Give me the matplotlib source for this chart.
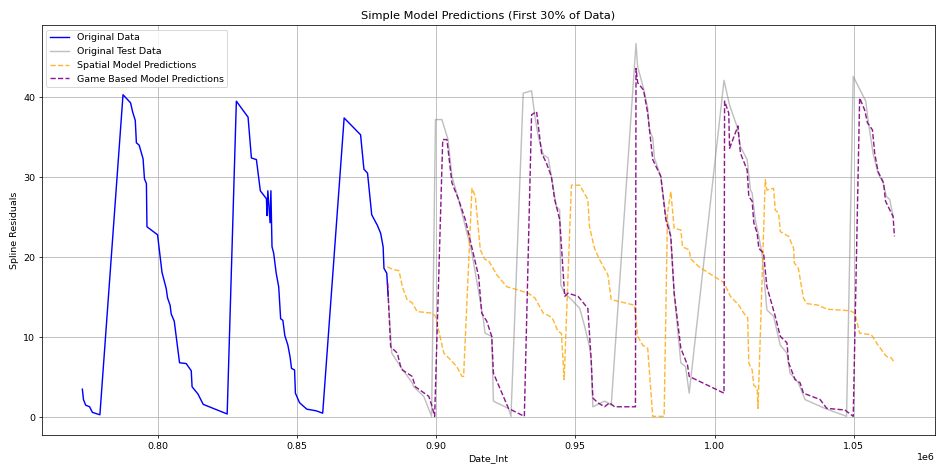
import numpy as np
import matplotlib.pyplot as plt

# Date_Int values are given in thousands, y values are spline residuals.
orig_x = [773.0, 773.4, 774.2, 775.6, 776.6, 779.3, 787.6, 790.3, 791.1, 792.0,
          792.4, 793.4, 794.8, 795.3, 796.0, 796.2, 800.0, 801.6, 803.1, 803.6,
          804.5, 804.9, 806.0, 807.9, 810.3, 812.1, 812.4, 814.5, 816.4, 825.0,
          828.3, 832.5, 833.7, 835.5, 836.9, 839.1, 839.3, 839.6, 840.4, 840.7,
          841.1, 841.7, 842.6, 843.5, 844.2, 845.0, 845.7, 846.8, 847.6, 848.1,
          849.2, 849.5, 851.0, 853.6, 856.9, 859.3, 867.0, 872.9, 874.1, 875.4,
          876.9, 878.9, 880.1, 881.0, 881.3, 882.3, 882.8]
orig_y = [3.5, 2.2, 1.5, 1.3, 0.6, 0.3, 40.3, 39.3, 38.1, 37.1,
          34.3, 34.0, 32.3, 29.8, 29.2, 23.8, 22.8, 18.1, 16.1, 14.9,
          14.0, 12.9, 12.0, 6.8, 6.7, 5.8, 3.8, 2.9, 1.6, 0.4,
          39.5, 37.5, 32.4, 32.2, 28.3, 27.3, 25.2, 28.3, 24.3, 28.3,
          21.3, 20.5, 18.0, 16.3, 12.3, 12.1, 10.2, 9.0, 7.5, 6.1,
          5.9, 3.0, 1.8, 1.0, 0.8, 0.5, 37.4, 35.3, 31.0, 30.5,
          25.3, 24.0, 23.0, 21.3, 18.6, 18.0, 15.1]

test_x = [882.8, 884.1, 887.3, 891.4, 892.0, 895.6, 898.4, 899.8, 902.1, 904.3,
          905.7, 908.1, 911.7, 912.9, 917.0, 917.6, 920.0, 920.6, 926.0, 926.9,
          931.3, 934.3, 935.5, 936.7, 938.5, 940.3, 941.4, 943.2, 944.4, 944.8,
          946.2, 948.6, 951.6, 953.4, 955.1, 955.7, 956.3, 960.5, 961.7, 962.9,
          971.8, 972.4, 974.5, 976.0, 976.6, 977.8, 978.4, 980.7, 982.5, 983.7,
          984.3, 985.5, 987.9, 989.6, 990.9, 1003.4, 1005.4, 1008.1, 1009.3, 1011.7,
          1012.9, 1013.5, 1014.6, 1015.9, 1017.0, 1018.8, 1021.2, 1023.6, 1026.0, 1027.1,
          1030.1, 1032.5, 1039.6, 1047.4, 1049.8, 1054.3, 1055.1, 1056.9, 1058.7, 1060.5,
          1061.7, 1062.9, 1064.1]
test_y = [15.1, 8.0, 6.3, 4.3, 3.8, 2.6, 0.1, 37.2, 37.2, 34.7,
          30.1, 27.2, 22.2, 20.5, 12.2, 10.5, 10.1, 2.0, 1.1, 0.1,
          40.5, 40.8, 37.6, 35.1, 32.8, 32.4, 30.1, 26.3, 25.9, 16.5,
          15.5, 14.7, 13.6, 11.3, 8.8, 7.2, 1.3, 2.0, 1.8, 1.5,
          46.7, 43.8, 41.1, 38.6, 35.9, 34.9, 32.4, 30.1, 25.1, 23.8,
          22.2, 15.5, 6.8, 6.3, 3.0, 42.1, 39.0, 36.3, 33.8, 32.2,
          28.4, 28.0, 24.7, 22.6, 20.5, 13.4, 12.6, 9.0, 8.0, 5.5,
          4.3, 2.2, 1.1, 0.1, 42.6, 39.5, 37.2, 33.0, 30.5, 29.3,
          27.6, 27.2, 25.1]

spatial_x = [882.5, 884.3, 886.7, 887.9, 889.6, 891.4, 893.2, 898.6, 899.8, 902.8,
             905.1, 907.5, 909.3, 909.9, 912.9, 914.1, 915.9, 917.6, 918.8, 921.8,
             925.4, 929.5, 933.1, 935.5, 938.5, 940.9, 942.0, 943.8, 945.0, 946.0,
             948.6, 951.6, 954.5, 955.1, 956.9, 958.7, 961.7, 962.9, 971.2, 972.4,
             974.2, 976.0, 977.8, 981.9, 983.1, 984.3, 985.5, 987.9, 988.5, 990.9,
             991.4, 994.4, 1003.4, 1005.7, 1008.7, 1010.5, 1011.9, 1012.3, 1013.5, 1014.1,
             1015.3, 1015.6, 1018.2, 1018.8, 1021.2, 1021.8, 1023.0, 1023.6, 1026.6, 1028.4,
             1028.6, 1030.1, 1031.9, 1033.1, 1037.3, 1040.3, 1048.6, 1050.4, 1052.1, 1056.3,
             1058.7, 1061.7, 1063.5, 1064.6]
spatial_y = [18.8, 18.5, 18.3, 16.3, 14.7, 14.3, 13.2, 13.0, 12.6, 8.0,
             7.2, 6.3, 5.1, 5.1, 28.6, 27.6, 20.9, 19.7, 19.6, 17.8,
             16.3, 15.9, 15.5, 14.9, 13.0, 12.6, 12.2, 10.7, 10.5, 4.7,
             29.0, 29.0, 27.2, 23.8, 21.1, 19.7, 17.8, 14.7, 14.0, 10.1,
             9.0, 8.6, 0.1, 0.1, 25.5, 28.2, 23.6, 23.4, 21.3, 20.9,
             19.8, 18.8, 16.8, 15.1, 14.0, 13.0, 12.4, 6.8, 5.9, 4.0,
             3.6, 1.1, 29.7, 28.4, 28.6, 25.9, 25.5, 23.2, 22.6, 21.1,
             19.3, 18.6, 14.9, 14.2, 14.0, 13.5, 13.3, 13.0, 10.5, 10.3,
             9.0, 7.6, 7.4, 6.8]

game_x = [882.6, 883.7, 885.5, 886.1, 887.3, 887.9, 891.4, 892.6, 897.4, 898.6,
          899.5, 902.4, 903.9, 905.7, 908.1, 910.5, 915.3, 916.4, 918.2, 920.0,
          920.6, 926.0, 931.7, 934.3, 936.1, 937.9, 939.6, 941.4, 942.6, 944.4,
          946.2, 947.4, 951.0, 954.5, 955.7, 956.3, 958.1, 960.5, 962.3, 964.1,
          971.6, 971.8, 972.4, 974.5, 976.0, 977.8, 980.7, 982.5, 984.3, 985.5,
          987.9, 990.3, 990.9, 1003.4, 1003.6, 1005.1, 1005.4, 1008.4, 1009.3, 1011.7,
          1012.3, 1013.5, 1014.1, 1015.3, 1015.9, 1017.6, 1018.8, 1021.8, 1023.6, 1026.0,
          1026.6, 1028.9, 1030.7, 1031.9, 1037.9, 1040.3, 1046.8, 1049.8, 1052.1, 1053.9,
          1054.9, 1056.7, 1057.5, 1058.7, 1060.7, 1061.4, 1063.5, 1064.1, 1064.6]
game_y = [16.8, 8.8, 8.2, 8.0, 6.3, 5.9, 5.1, 3.8, 2.6, 1.3,
          0.1, 34.7, 34.7, 29.3, 27.2, 24.7, 17.6, 13.0, 12.0, 10.1,
          5.5, 1.1, 0.1, 37.8, 38.2, 33.0, 31.8, 30.1, 27.2, 24.7,
          15.1, 15.5, 15.1, 13.6, 7.2, 2.4, 1.8, 1.3, 1.8, 1.3,
          1.3, 43.6, 41.8, 40.9, 38.0, 32.2, 30.1, 24.7, 22.6, 15.5,
          8.6, 6.5, 5.1, 3.0, 39.5, 38.0, 33.6, 36.4, 33.0, 30.9,
          27.6, 27.0, 24.3, 23.0, 21.1, 20.5, 16.3, 12.6, 10.1, 9.3,
          6.8, 4.7, 4.3, 3.0, 2.2, 1.1, 0.9, 0.1, 39.9, 38.4,
          36.8, 35.9, 33.0, 30.7, 29.3, 27.0, 25.5, 25.1, 22.6]

# thousands -> Date_Int
orig_x = np.array(orig_x) * 1000
test_x = np.array(test_x) * 1000
spatial_x = np.array(spatial_x) * 1000
game_x = np.array(game_x) * 1000

dpi = 68
fig = plt.figure(figsize=(936 / dpi, 466 / dpi), dpi=dpi)
ax = fig.add_axes([0.0446, 0.0665, 0.9544, 0.88])

ax.plot(orig_x, orig_y, color='blue', label='Original Data')
ax.plot(test_x, test_y, color='gray', alpha=0.5, label='Original Test Data')
ax.plot(spatial_x, spatial_y, color='orange', linestyle='--', alpha=0.8, label='Spatial Model Predictions')
ax.plot(game_x, game_y, color='purple', linestyle='--', alpha=0.9, label='Game Based Model Predictions')

ax.set_title('Simple Model Predictions (First 30% of Data)')
ax.set_xlabel('Date_Int')
ax.set_ylabel('Spline Residuals')
ax.legend(loc='upper left')
ax.grid(True)

fig.savefig('out.png', dpi=dpi)
